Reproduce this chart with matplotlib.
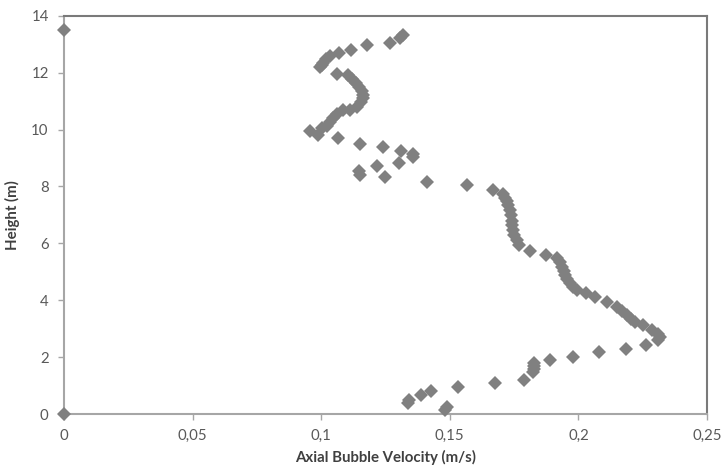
import matplotlib
matplotlib.use("Agg")
import matplotlib.pyplot as plt

velocity = [
    0.0, 0.0,
    0.1318, 0.1306, 0.1268, 0.1178, 0.1116, 0.1069, 0.1034, 0.1019, 0.1007, 0.0995, 0.1003,
    0.1061, 0.1104, 0.1120, 0.1135, 0.1147, 0.1159, 0.1163, 0.1163, 0.1155, 0.1139, 0.1112,
    0.1085, 0.1061, 0.1046, 0.1034, 0.1022, 0.1003, 0.0956, 0.0988, 0.1065, 0.1151, 0.1240,
    0.1310, 0.1357, 0.1357, 0.1302, 0.1217, 0.1147, 0.1151, 0.1248, 0.1411, 0.1567, 0.1668,
    0.1707, 0.1715, 0.1722, 0.1726, 0.1734, 0.1738, 0.1742, 0.1742, 0.1746, 0.1750, 0.1760,
    0.1770, 0.1810, 0.1874, 0.1917, 0.1930, 0.1936, 0.1944, 0.1948, 0.1956, 0.1967, 0.1980,
    0.1995, 0.2030, 0.2065, 0.2110, 0.2150, 0.2170, 0.2190, 0.2205, 0.2220, 0.2250, 0.2286,
    0.2310, 0.2318, 0.2310, 0.2263, 0.2185, 0.2080, 0.1980, 0.1890, 0.1827, 0.1827, 0.1827,
    0.1823, 0.1790, 0.1676, 0.1530, 0.1427, 0.1388, 0.1340, 0.1337, 0.1490, 0.1480,
]
height = [
    13.5, 0.0,
    13.33, 13.23, 13.05, 12.98, 12.80, 12.70, 12.60, 12.49, 12.35, 12.20, 12.28,
    11.96, 11.90, 11.79, 11.65, 11.50, 11.37, 11.23, 11.09, 10.95, 10.80, 10.70,
    10.67, 10.56, 10.42, 10.28, 10.14, 10.04, 9.96, 9.79, 9.70, 9.50, 9.40,
    9.26, 9.14, 9.02, 8.84, 8.70, 8.53, 8.39, 8.32, 8.14, 8.04, 7.89,
    7.75, 7.60, 7.50, 7.33, 7.16, 6.98, 6.80, 6.63, 6.46, 6.28, 6.10,
    5.93, 5.72, 5.58, 5.47, 5.33, 5.16, 5.02, 4.88, 4.74, 4.60, 4.46,
    4.35, 4.25, 4.10, 3.93, 3.75, 3.62, 3.47, 3.33, 3.23, 3.12, 2.95,
    2.80, 2.70, 2.60, 2.42, 2.28, 2.18, 2.00, 1.90, 1.79, 1.68, 1.58,
    1.47, 1.19, 1.09, 0.95, 0.81, 0.67, 0.49, 0.39, 0.25, 0.14,
]
x_ticks = [0, 0.05, 0.1, 0.15, 0.2, 0.25]
x_tick_labels = ["0", "0,05", "0,1", "0,15", "0,2", "0,25"]
y_ticks = [0, 2, 4, 6, 8, 10, 12, 14]

plt.rcParams['font.family'] = ['Lato', 'DejaVu Sans']

fig = plt.figure(figsize=(7.22, 4.72), dpi=100)
ax = fig.add_axes([64/722, 1 - 414/472, (707-64)/722, (414-15.7)/472])

ax.plot(velocity, height, linestyle='none', marker='D', markersize=7,
        color='#808080', markeredgewidth=0, clip_on=False, zorder=3)

ax.set_xlim(0, 0.25)
ax.set_ylim(0, 14)
ax.set_xticks(x_ticks)
ax.set_xticklabels(x_tick_labels)
ax.set_yticks(y_ticks)

for s in ['left', 'bottom']:
    ax.spines[s].set_color('#a6a6a6')
    ax.spines[s].set_linewidth(1.5)
for s in ['top', 'right']:
    ax.spines[s].set_color('#7a7a7a')
    ax.spines[s].set_linewidth(1.5)

ax.tick_params(axis='both', colors='#a6a6a6', labelcolor='#595959',
               labelsize=10.8, length=4, width=1, direction='out')
ax.tick_params(axis='x', pad=7)
ax.tick_params(axis='y', pad=7)

ax.set_xlabel('Axial Bubble Velocity (m/s)', fontsize=10.8, fontweight='bold',
              color='#404040', labelpad=5)
ax.set_ylabel('Height (m)', fontsize=10.8, fontweight='bold', color='#404040',
              labelpad=8)

fig.savefig('out.png', dpi=100)
